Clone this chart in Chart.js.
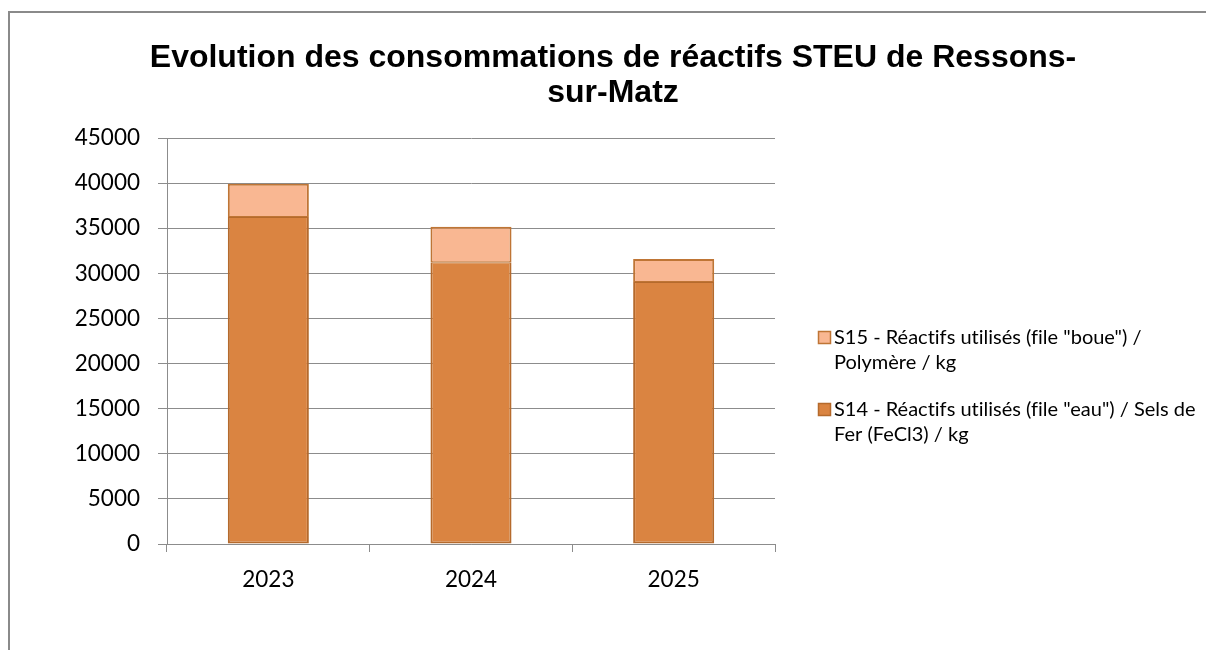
<!DOCTYPE html>
<html><head><meta charset="utf-8">
<script src="https://cdn.jsdelivr.net/npm/chart.js@4.4.1/dist/chart.umd.min.js"></script>
<style>html,body{margin:0;padding:0;background:#fff;overflow:hidden}canvas{display:block}</style>
</head><body>
<canvas id="c" width="1206" height="650"></canvas>
<script>
const categories = ['2023', '2024', '2025'];
const titleLines = ['Evolution des consommations de réactifs STEU de Ressons-', 'sur-Matz'];
const seriesS14Name = 'S14 - Réactifs utilisés (file "eau") / Sels de Fer (FeCl3) / kg';
const seriesS15Name = 'S15 - Réactifs utilisés (file "boue") / Polymère / kg';
const legendS14Lines = ['S14 - Réactifs utilisés (file "eau") / Sels de', 'Fer (FeCl3) / kg'];
const legendS15Lines = ['S15 - Réactifs utilisés (file "boue") /', 'Polymère / kg'];
const s14Values = [36240, 31220, 29040];
const s15Values = [3700, 3930, 2550];
const yMin = 0, yMax = 45000, yStep = 5000;

const S14_FILL = '#DA8441', S14_BORDER = '#B56A2C';
const S15_FILL = '#F9B792', S15_BORDER = '#BF7535';
const GRID = '#8C8C8C';

const framePlugin = {
  id: 'frame',
  beforeDraw(chart) {
    const ctx = chart.ctx;
    ctx.save();
    ctx.fillStyle = '#fff';
    ctx.fillRect(0, 0, chart.width, chart.height);
    ctx.strokeStyle = '#8A8A8A';
    ctx.lineWidth = 2;
    ctx.strokeRect(9, 12, 1400, 1000);
    ctx.restore();
  }
};

const titlePlugin = {
  id: 'customTitle',
  afterDraw(chart) {
    const ctx = chart.ctx;
    ctx.save();
    ctx.fillStyle = '#000';
    ctx.font = 'bold 32px "Liberation Sans", Arial, sans-serif';
    ctx.textAlign = 'center';
    ctx.textBaseline = 'alphabetic';
    titleLines.forEach((t, i) => ctx.fillText(t, 613, 67 + i * 35));
    ctx.restore();
  }
};

const legendPlugin = {
  id: 'customLegend',
  afterDraw(chart) {
    const ctx = chart.ctx;
    const entries = [
      { lines: legendS15Lines, fill: S15_FILL, border: S15_BORDER, y: 344 },
      { lines: legendS14Lines, fill: S14_FILL, border: S14_BORDER, y: 416 }
    ];
    ctx.save();
    ctx.font = '20px Lato, "Noto Sans", sans-serif';
    try { ctx.textRendering = 'optimizeSpeed'; } catch (e) {}
    ctx.textBaseline = 'alphabetic';
    ctx.textAlign = 'left';
    entries.forEach(e => {
      ctx.fillStyle = e.fill;
      ctx.fillRect(818, e.y - 13, 13, 13);
      ctx.strokeStyle = e.border;
      ctx.lineWidth = 1.5;
      ctx.strokeRect(818.5, e.y - 12.5, 12, 12);
      ctx.fillStyle = '#000';
      e.lines.forEach((l, i) => ctx.fillText(l, 834, e.y + i * 25));
    });
    ctx.restore();
  }
};

new Chart(document.getElementById('c'), {
  type: 'bar',
  data: {
    labels: categories,
    datasets: [
      { label: seriesS14Name, data: s14Values, backgroundColor: S14_FILL, borderColor: S14_BORDER, borderWidth: { top: 1, left: 2, right: 2, bottom: 2 }, borderSkipped: false, categoryPercentage: 0.4, barPercentage: 1.0 },
      { label: seriesS15Name, data: s15Values, backgroundColor: S15_FILL, borderColor: S15_BORDER, borderWidth: { top: 2, left: 2, right: 2, bottom: 1 }, borderSkipped: false, categoryPercentage: 0.4, barPercentage: 1.0 }
    ]
  },
  options: {
    responsive: false,
    animation: false,
    layout: { padding: { left: 0, top: 138, right: 431, bottom: 0 } },
    plugins: { legend: { display: false }, title: { display: false }, tooltip: { enabled: false } },
    scales: {
      x: {
        stacked: true,
        afterFit(s) { s.height = 106; },
        grid: { display: true, drawOnChartArea: false, drawTicks: true, tickLength: 8, color: GRID, offset: true },
        border: { display: true, color: GRID, width: 1 },
        ticks: { color: '#000', font: { family: 'Lato', size: 22.5, lineHeight: 1.2 }, padding: 14 }
      },
      y: {
        stacked: true,
        min: yMin, max: yMax,
        afterFit(s) { s.width = 167; },
        grid: { color: GRID, lineWidth: 1, drawTicks: true, tickLength: 9 },
        border: { display: true, color: GRID, width: 1 },
        ticks: { stepSize: yStep, color: '#000', font: { family: 'Lato', size: 22.5 }, padding: 18, callback: (v) => String(v) }
      }
    }
  },
  plugins: [framePlugin, titlePlugin, legendPlugin]
});
</script>
</body></html>
